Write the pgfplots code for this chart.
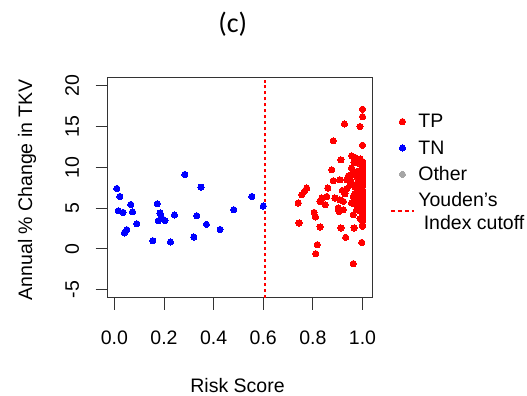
\documentclass[border=0pt]{standalone}
\usepackage{fontspec}
\setmainfont{Liberation Sans}
\newfontfamily\titlefont{Carlito}
\usepackage{graphicx}
\usepackage{pgfplots}
\usepackage{pgfplotstable}
\pgfplotsset{compat=1.18}
\newcommand\fs{\fontsize{19.5bp}{23.4bp}\selectfont}
\newcommand\yl[1]{\rotatebox{90}{#1}\hspace*{16.4bp}}
\pgfplotsset{youdenlegend/.style={legend image code/.code={\draw[red, dash pattern=on 4bp off 3bp, line width=1.5bp] (0bp,-4.5bp) -- (23bp,-4.5bp);}}}
\pgfplotstableread{
x y
1.0 17.11
1.0 16.21
0.99 14.98
0.927 15.31
0.882 13.23
1.0 12.70
0.956 11.40
0.970 10.91
0.913 10.91
1.0 10.70
0.876 9.68
0.956 9.89
0.977 9.47
1.0 10.09
0.943 8.95
0.909 8.46
0.936 8.46
0.950 8.46
0.882 8.34
0.956 8.05
1.0 8.86
1.0 7.64
0.775 7.44
0.766 7.03
0.755 6.62
0.860 7.44
0.919 7.15
0.936 7.32
0.970 7.56
0.836 6.22
0.856 6.41
0.889 6.22
0.929 6.74
0.963 6.41
0.983 6.62
0.741 5.61
0.829 5.80
0.849 5.40
0.909 6.01
0.923 5.80
0.956 5.61
1.0 6.01
1.0 5.19
0.902 4.99
0.923 4.79
0.905 4.58
0.977 4.79
0.805 4.46
0.811 3.89
1.0 4.17
0.963 4.17
0.744 3.16
1.0 3.35
1.0 2.74
0.829 2.67
0.913 2.55
0.966 2.55
0.932 1.40
0.997 0.78
0.818 0.50
0.811 -0.60
0.963 -1.82
1.0 2.95
1.0 3.6
1.0 3.9
1.0 4.45
1.0 4.7
1.0 5.0
1.0 5.45
1.0 5.75
1.0 6.3
1.0 6.6
1.0 6.9
1.0 7.25
1.0 7.9
1.0 8.2
1.0 8.5
1.0 9.2
1.0 9.5
1.0 9.8
1.0 10.4
0.99 3.7
0.99 4.6
0.99 5.3
0.99 5.9
0.99 6.5
0.99 7.0
0.99 7.7
0.99 8.3
0.99 9.0
0.99 9.6
0.99 11.0
0.98 5.1
0.98 6.0
0.98 7.3
0.98 8.1
0.98 8.7
0.98 10.5
0.97 5.5
0.97 6.8
0.97 9.1
0.97 11.2
0.96 9.3
0.965 10.6
0.95 7.8
}\tp
\pgfplotstableread{
x y
0.0097 7.39
0.022 6.41
0.016 4.66
0.035 4.46
0.066 5.43
0.073 4.54
0.090 3.07
0.040 1.93
0.050 2.34
0.173 5.52
0.184 4.38
0.189 3.89
0.177 3.44
0.204 3.44
0.242 4.14
0.155 0.99
0.226 0.83
0.284 9.11
0.349 7.56
0.332 4.05
0.371 2.99
0.320 1.44
0.426 2.37
0.481 4.79
0.554 6.41
0.600 5.24
}\tn
\begin{document}
\fs
\begin{tikzpicture}
\path[use as bounding box] (-107.7bp,-98.3bp) rectangle (419.3bp,297.7bp);
\begin{axis}[
  at={(0,0)}, anchor=south west,
  scale only axis, width=265bp, height=220.2bp,
  xmin=-0.027, xmax=1.041, ymin=-6, ymax=21,
  axis line style={black!80, line width=0.9bp},
  every tick/.append style={black!80, line width=0.9bp},
  tick align=outside, major tick length=12bp,
  xtick={0,0.2,0.4,0.6,0.8,1.0},
  xticklabels={0.0,0.2,0.4,0.6,0.8,1.0},
  ytick={-5,0,5,10,15,20},
  yticklabels={\yl{-5},\yl{0},\yl{5},\yl{10},\yl{15},\yl{20}},
  xtick pos=bottom, ytick pos=left,
  tick label style={font=\fs},
  xticklabel style={anchor=north, inner sep=0pt, yshift=-20.6bp},
  yticklabel style={anchor=east, inner sep=0pt},
  xlabel={Risk Score},
  ylabel={Annual \% Change in TKV},
  xlabel style={at={([yshift=-94.5bp]axis description cs:0.49,0)}, anchor=base, font=\fs},
  ylabel style={at={([xshift=-75.5bp]axis description cs:0,0.49)}, anchor=base, font=\fs},
  title={\titlefont (c)},
  title style={at={([yshift=47bp]axis description cs:0.472,1)}, anchor=center, font=\fontsize{28bp}{32bp}\selectfont},
  legend style={at={([xshift=17.3bp,yshift=-34.6bp]axis description cs:1,1)}, anchor=north west, draw=none, fill=none, inner sep=0pt, row sep=7.9bp, column sep=3.7bp, nodes={inner sep=0pt}, font=\fs},
  legend cell align=left,
  legend image code/.code={\draw[mark repeat=2,mark phase=2,#1] plot coordinates {(0bp,0bp) (11.5bp,0bp) (23bp,0bp)};},
  clip=true,
]
\addplot[only marks, mark=*, mark size=3.1bp, mark options={fill=red, draw=red, line width=0pt}] table {\tp};
\addlegendentry{\rule{0pt}{15.6bp}TP}
\addplot[only marks, mark=*, mark size=3.1bp, mark options={fill=blue, draw=blue, line width=0pt}] table {\tn};
\addlegendentry{\rule{0pt}{15.6bp}TN}
\addlegendimage{only marks, mark=*, mark size=3.1bp, mark options={fill=black!35, draw=black!35, line width=0pt}}
\addlegendentry{\rule{0pt}{15.6bp}Other}
\addplot[red, dashed, line width=1.6bp, youdenlegend] coordinates {(0.608,-6) (0.608,21)};
\addlegendentry{\raisebox{0pt}[\dimexpr\height-1.5bp\relax]{\def\arraystretch{0.98}\begin{tabular}{@{}l@{}}Youden's\\\ Index cutoff\end{tabular}}}
\end{axis}
\end{tikzpicture}
\end{document}
